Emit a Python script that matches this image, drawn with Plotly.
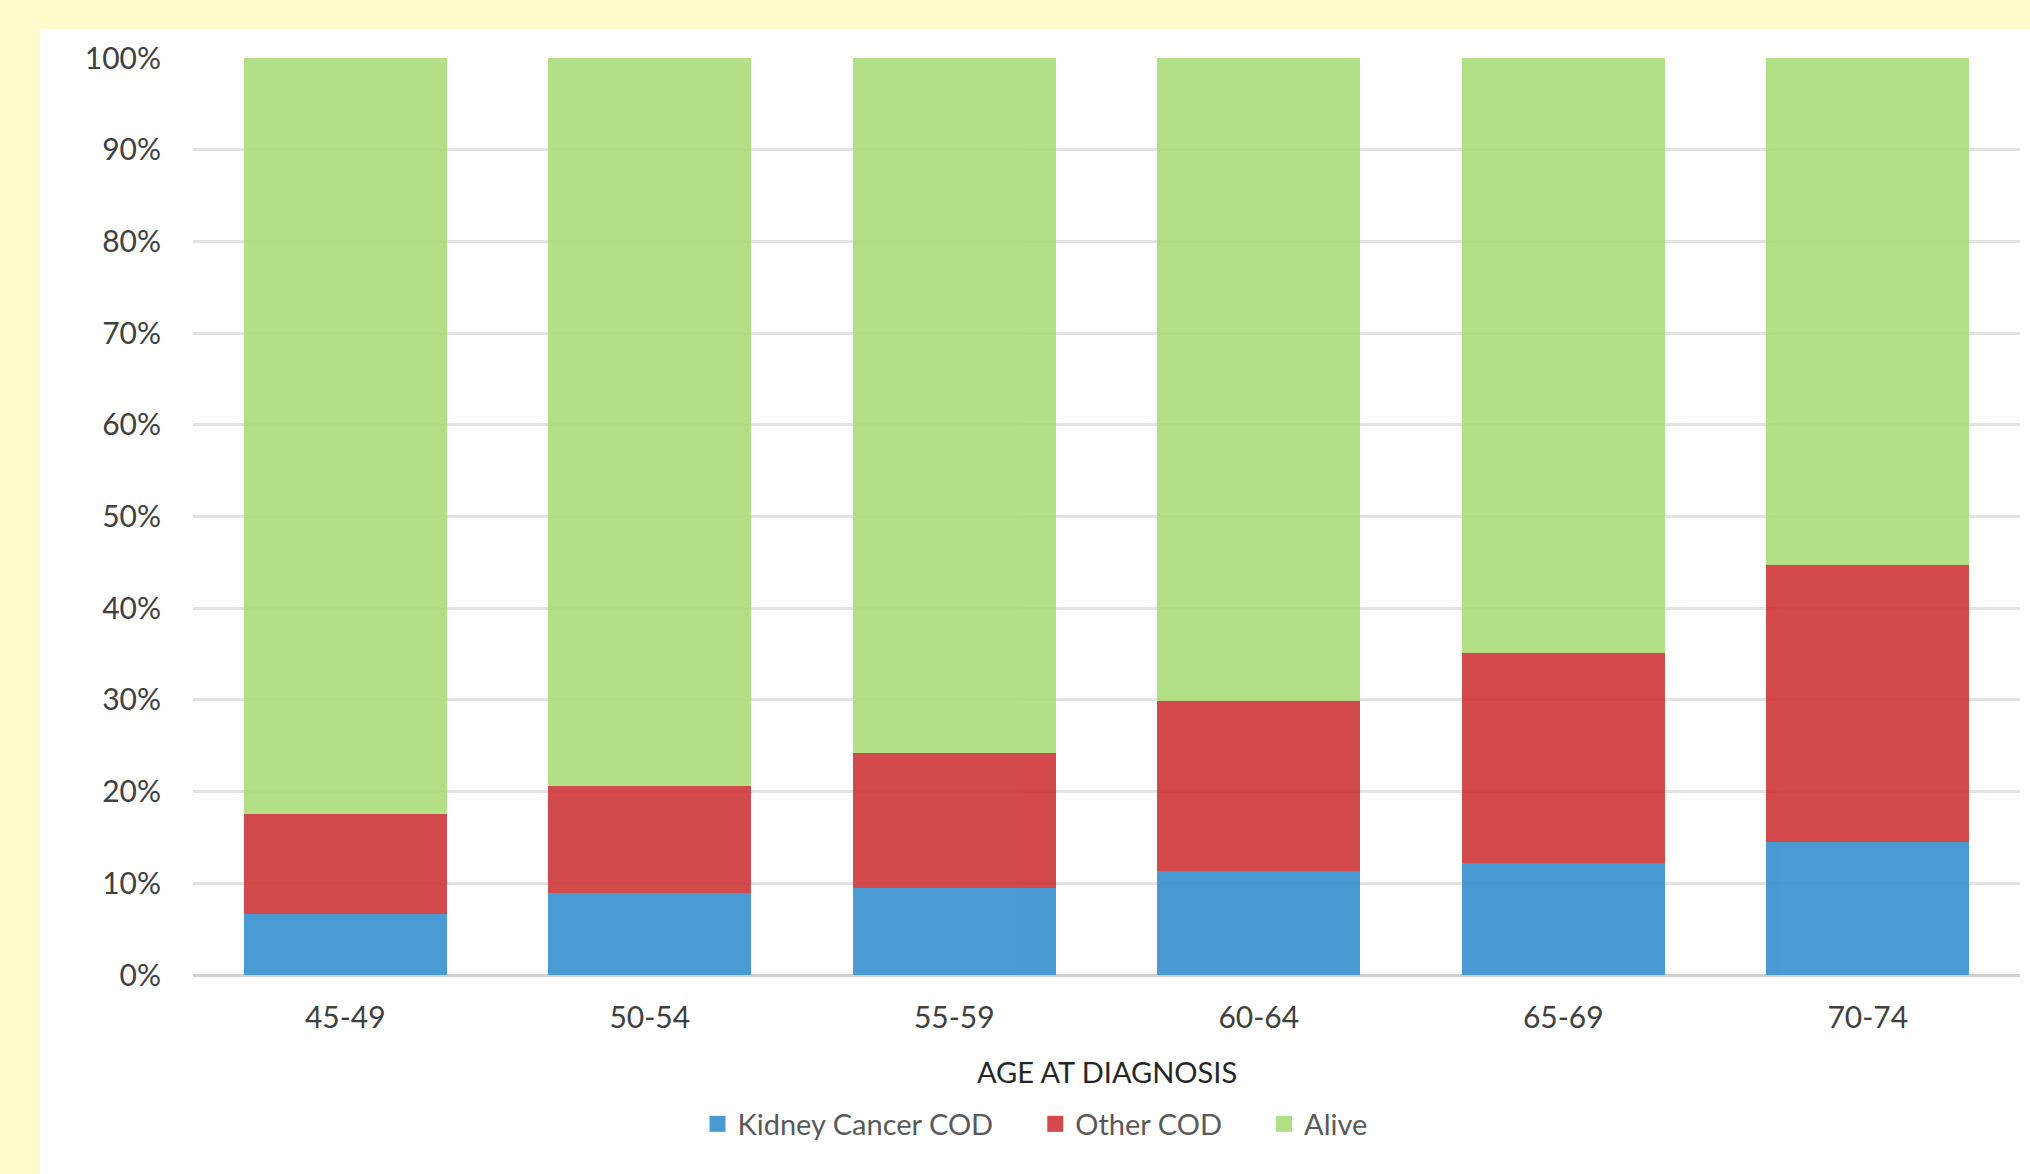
import plotly.graph_objects as go

# ---- data ----
age_groups = ["45-49", "50-54", "55-59", "60-64", "65-69", "70-74"]
kidney_cancer_cod = [6.7, 8.9, 9.5, 11.3, 12.2, 14.5]
other_cod = [10.9, 11.7, 14.7, 18.6, 22.9, 30.2]
alive = [82.4, 79.4, 75.8, 70.1, 64.9, 55.3]
series_names = ["Kidney Cancer COD", "Other COD", "Alive"]
y_tick_values = [0, 10, 20, 30, 40, 50, 60, 70, 80, 90, 100]
y_tick_labels = ["0%", "10%", "20%", "30%", "40%", "50%", "60%", "70%", "80%", "90%", "100%"]

W, H = 2030, 1174
ML, MR, MT, MB = 193, 10, 58, 199
PW, PH = W - ML - MR, H - MT - MB

FONT = "Lato"
OP = 0.88
colors = ["rgb(49,140,205)", "rgb(205,49,52)", "rgb(169,219,118)"]
series_values = [kidney_cancer_cod, other_cod, alive]

fig = go.Figure()
for name, vals, col in zip(series_names, series_values, colors):
    fig.add_trace(go.Bar(name=name, x=age_groups, y=vals, showlegend=False,
                         legendgroup=name,
                         marker=dict(color=col, line=dict(width=0)), opacity=OP))
# legend entries (square swatches)
gap = "\u00a0" * 5
for i, (name, col) in enumerate(zip(series_names, colors)):
    label = name + (gap if i < len(series_names) - 1 else "")
    fig.add_trace(go.Scatter(name=label, x=[None], y=[None], mode="markers",
                             legendgroup=name, opacity=OP,
                             marker=dict(symbol="square", size=18, color=col,
                                         line=dict(width=0))))

def px_x(x):
    return (x - ML) / PW

def px_y(y):
    return (H - MB - y) / PH

fig.update_layout(
    width=W, height=H,
    margin=dict(l=ML, r=MR, t=MT, b=MB, pad=0),
    barmode="stack",
    bargap=0.333,
    paper_bgcolor="#FFFBCC",
    plot_bgcolor="rgba(0,0,0,0)",
    font=dict(family=FONT, size=30, color="#404040"),
    showlegend=True,
    legend=dict(orientation="h", x=px_x(1035), xanchor="center",
                y=px_y(1124), yanchor="middle", itemsizing="trace",
                font=dict(family=FONT, size=29, color="#595959"),
                bgcolor="rgba(0,0,0,0)", traceorder="normal"),
    shapes=[dict(type="rect", xref="paper", yref="paper", layer="below",
                 x0=px_x(40), x1=px_x(W + 5), y0=px_y(H + 5), y1=px_y(29),
                 fillcolor="white", line=dict(width=0))],
    annotations=[dict(text="AGE AT DIAGNOSIS", xref="paper", yref="paper",
                      x=0.5, y=px_y(1071), xanchor="center", yanchor="middle",
                      showarrow=False,
                      font=dict(family=FONT, size=29, color="#262626"))],
)

fig.update_xaxes(
    showgrid=False, showline=False, zeroline=False,
    ticks="outside", ticklen=16, tickcolor="rgba(0,0,0,0)",
    tickfont=dict(family=FONT, size=30, color="#404040"),
)
fig.update_yaxes(
    range=[0, 100], tickvals=y_tick_values, ticktext=y_tick_labels,
    showgrid=True, gridcolor="#E3E3E3", gridwidth=2.5,
    zeroline=True, zerolinecolor="#D0D0D0", zerolinewidth=2.5,
    showline=False,
    ticks="outside", ticklen=25, tickcolor="rgba(0,0,0,0)",
    tickfont=dict(family=FONT, size=30, color="#404040"),
)

fig.write_html("out.html")
